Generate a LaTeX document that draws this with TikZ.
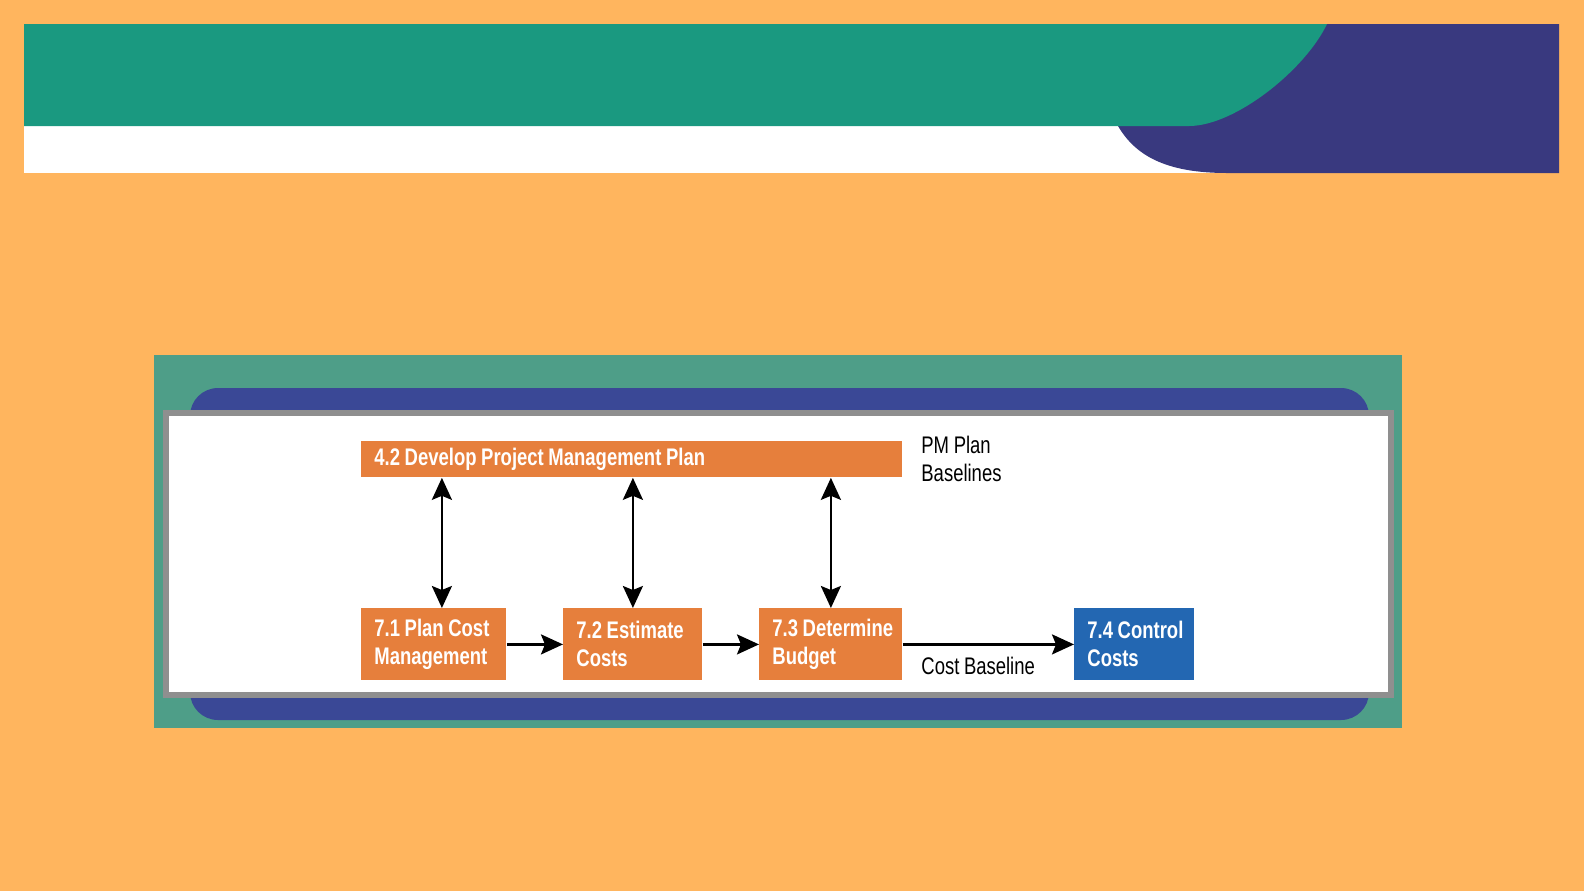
\documentclass[tikz,border=0pt]{standalone}
\usepackage{fontspec}
\setmainfont{Liberation Sans}[FakeStretch=0.77,WordSpace=0.9]
\usetikzlibrary{arrows.meta}
\hyphenpenalty=10000
\exhyphenpenalty=10000

\definecolor{pagebg}{HTML}{FFB55E}
\definecolor{bandteal}{HTML}{1A9980}
\definecolor{bandnavy}{HTML}{39397F}
\definecolor{panelteal}{HTML}{4E9E88}
\definecolor{panelnavy}{HTML}{3A4896}
\definecolor{framegray}{HTML}{8F8F8F}
\definecolor{procorange}{HTML}{E67F3C}
\definecolor{procblue}{HTML}{2367B2}

\begin{document}
\begin{tikzpicture}[x=0.5pt,y=-0.5pt,
   proc/.style={anchor=north west,fill=procorange,text=white,align=flush left,
     font=\fontsize{12}{14}\selectfont\bfseries,inner xsep=6.5pt,inner ysep=0pt,
     minimum height=36pt,text width=#1},
   lbl/.style={anchor=west,align=left,inner sep=0pt,font=\fontsize{12}{14}\selectfont},
   link/.style={line width=1.3pt,-{Stealth[length=11pt,width=10pt,inset=2pt]}},
   both/.style={line width=1.3pt,{Stealth[length=11pt,width=10pt,inset=2pt]}-{Stealth[length=11pt,width=10pt,inset=2pt]}}]
  % page in pixel units, y down (1584 x 891)
  \fill[pagebg] (0,0) rectangle (1584,891);
  \useasboundingbox (0,0) rectangle (1584,891);

  % ---- header band ----
  \fill[white] (24,126) rectangle (1559,173);
  \fill[bandnavy] (1118,24) -- (1559,24) -- (1559,173) -- (1227,173)
     .. controls (1165,173) and (1135,155) .. (1118,126) -- cycle;
  \fill[bandteal] (24,24) -- (1327,24) .. controls (1305,70) and (1235,126) .. (1189,126)
     -- (24,126) -- cycle;

  % ---- panel behind the chart ----
  \fill[panelteal] (154,355) rectangle (1402,728);
  \fill[panelnavy,rounded corners=14pt] (190,388) rectangle (1369,720);
  \filldraw[fill=white,draw=framegray,line width=3pt] (166,413) rectangle (1391,695);

  % ---- processes ----
  \node[proc=257.5pt,minimum height=18pt] (plan) at (361,441) {4.2 Develop Project Management Plan};
  \node[proc=59.5pt] (pcm) at (361,608) {\mbox{7.1 Plan Cost}\\Management};
  \node[proc=56.5pt] (est) at (563,608) {\mbox{7.2 Estimate}\\Costs};
  \node[proc=58.5pt] (bud) at (759,608) {\mbox{7.3 Determine}\\Budget};
  \node[proc=47pt,fill=procblue] (ctl) at (1074,608) {\mbox{7.4 Control}\\Costs};

  % ---- labels ----
  \node[lbl] (pmlbl) at (921,459) {PM Plan\\Baselines};
  \node[lbl] (cblbl) at (921,666) {Cost Baseline};

  % ---- links ----
  \draw[both] (plan.south -| pcm.north) ++(8,0) coordinate (a1) -- ([xshift=4pt]pcm.north);
  \draw[both] (plan.south -| est.north) -- (est.north);
  \draw[both] (plan.south -| bud.north) -- (bud.north);
  \draw[link] (pcm.east) -- (est.west);
  \draw[link] (est.east) -- (bud.west);
  \draw[link] (bud.east) -- (ctl.west);
\end{tikzpicture}
\end{document}
